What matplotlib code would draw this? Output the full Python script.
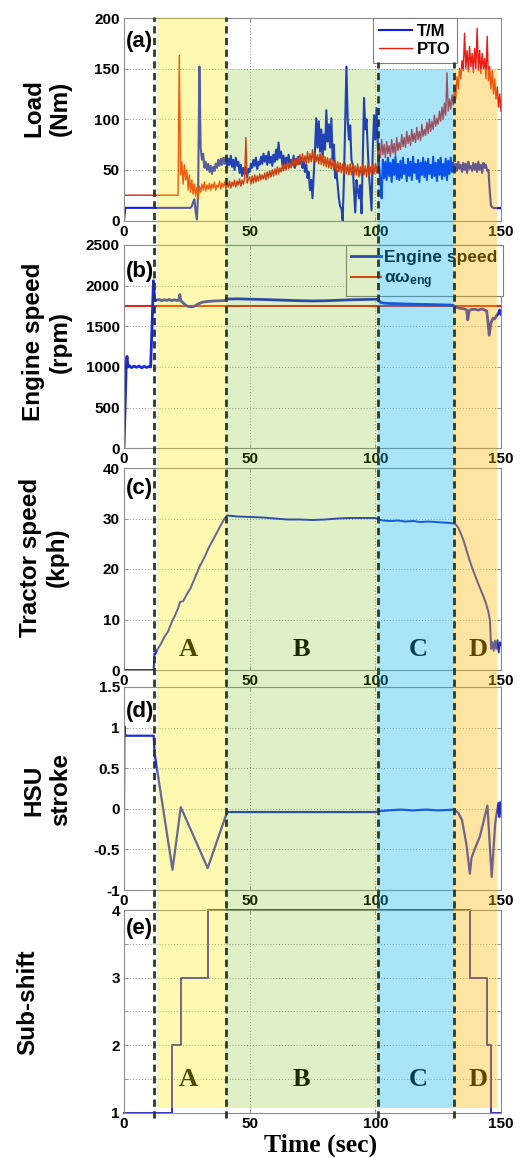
import numpy as np
import matplotlib
matplotlib.use("Agg")
import matplotlib.pyplot as plt
import matplotlib.transforms as mtransforms
from matplotlib.patches import Rectangle
from matplotlib.lines import Line2D

# ---------------------------------------------------------------- data
# load torques sampled every 0.5 s
load_t = np.arange(0, 150.5, 0.5)
tm_load = [
    0, 12.5, 12.5, 12.5, 12.5, 12.5, 12.5, 12.5, 12.5, 12.5, 12.5, 12.5, 12.5, 12.5, 12.5, 12.5, 12.5, 12.5, 12.5, 12.5,
    12.5, 12.5, 12.5, 12.5, 12.5, 12.5, 12.5, 12.5, 12.5, 12.5, 12.5, 12.5, 12.5, 12.5, 12.5, 12.5, 12.5, 12.5, 12.5, 12.5,
    12.5, 12.5, 12.5, 12.5, 12.5, 12.5, 12.5, 12.5, 12.5, 12.5, 12.5, 12.5, 12.5, 12.5, 14, 18, 21, 9, 1, 28,
    152, 72, 60, 66, 52, 58, 50, 56, 48, 54, 46, 53, 49, 56, 52, 60, 54, 61, 55, 62,
    56, 63, 52, 61, 55, 64, 53, 60, 50, 62, 54, 58, 47, 55, 44, 52, 46, 53, 43, 51,
    48, 56, 52, 60, 54, 62, 51, 58, 55, 63, 56, 66, 58, 64, 55, 68, 57, 63, 54, 65,
    58, 70, 60, 77, 62, 68, 55, 64, 52, 62, 56, 65, 53, 60, 55, 64, 52, 61, 56, 63,
    56, 62, 52, 58, 48, 55, 42, 48, 30, 40, 22, 45, 70, 101, 72, 98, 68, 90, 62, 85,
    70, 109, 78, 95, 72, 101, 60, 75, 42, 50, 35, 22, 14, 12, 0, 40, 95, 152, 100, 80,
    94, 60, 55, 30, 8, 40, 30, 22, 35, 7, 60, 121, 90, 100, 70, 45, 28, 10, 72, 104,
    80, 111, 72, 55, 40, 22, 60, 42, 58, 40, 62, 44, 57, 38, 60, 45, 63, 41, 56, 40,
    59, 42, 62, 46, 55, 39, 61, 44, 58, 40, 63, 47, 56, 41, 60, 38, 57, 45, 62, 43,
    58, 40, 61, 46, 55, 42, 63, 44, 57, 39, 60, 45, 62, 41, 56, 44, 61, 40, 59, 46,
    62, 48, 57, 50, 56, 49, 58, 51, 55, 48, 57, 50, 56, 47, 58, 51, 54, 49, 57, 50,
    56, 48, 58, 50, 55, 47, 57, 52, 55, 49, 50, 30, 15, 13, 12.5, 12, 12.5, 12, 12.5, 12,
    12.5,
]
pto_load = [
    25, 25, 25, 25, 25, 25, 25, 25, 25, 25, 25, 25, 25, 25, 25, 25, 25, 25, 25, 25,
    25, 25, 25, 25, 25, 25, 25, 25, 25, 25, 25, 25, 25, 25, 25, 25, 25, 25, 25, 25,
    25, 25, 25, 25, 163, 45, 58, 36, 55, 40, 50, 30, 45, 28, 40, 26, 36, 24, 33, 22,
    34, 28, 36, 30, 38, 29, 35, 31, 37, 30, 36, 32, 38, 30, 35, 33, 39, 31, 37, 33,
    38, 31, 37, 33, 39, 32, 38, 34, 40, 33, 39, 35, 41, 34, 40, 36, 42, 82, 37, 41,
    43, 36, 44, 37, 45, 38, 44, 39, 46, 40, 45, 41, 47, 40, 48, 42, 49, 43, 50, 44,
    51, 45, 53, 46, 52, 48, 55, 49, 56, 50, 58, 51, 57, 52, 60, 53, 61, 54, 63, 55,
    65, 56, 66, 57, 64, 56, 68, 57, 66, 58, 70, 57, 67, 58, 65, 56, 66, 55, 64, 54,
    63, 53, 62, 52, 61, 51, 60, 50, 59, 49, 58, 48, 57, 47, 56, 46, 57, 46, 55, 45,
    56, 45, 55, 44, 54, 45, 56, 43, 53, 44, 55, 45, 54, 43, 56, 44, 53, 45, 55, 46,
    56, 47, 60, 72, 62, 80, 65, 75, 62, 78, 66, 74, 63, 80, 67, 76, 64, 82, 69, 77,
    70, 85, 73, 82, 72, 88, 76, 84, 74, 90, 78, 86, 77, 92, 80, 88, 79, 95, 83, 90,
    84, 97, 86, 100, 88, 98, 90, 104, 93, 101, 95, 108, 98, 112, 100, 116, 104, 146, 108, 120,
    110, 124, 114, 132, 120, 142, 130, 150, 140, 158, 148, 185, 150, 168, 147, 172, 152, 165, 146, 170,
    150, 190, 148, 168, 145, 165, 150, 160, 140, 182, 138, 152, 130, 148, 125, 140, 120, 132, 112, 125,
    108,
]

# engine speed (rpm)
eng_t = [0, 0.4, 0.9, 1.2, 1.6, 2.2, 3, 4, 5, 6, 7, 8, 9, 10,
         10.6, 11.2, 11.7, 12.2, 12.8, 14, 15, 16, 17, 18, 19, 20, 21,
         21.8, 22.2, 22.6, 23.5, 24.5, 25.5, 26.5, 27.5, 28.5, 29.5,
         31, 33, 36, 39, 40.3, 40.8, 45, 50, 55, 60, 65, 70, 75, 80, 85, 90, 95, 100,
         101.2, 101.8, 102.5, 103.5, 106, 109, 112, 115, 118, 121, 124, 127, 130,
         131.2, 132.5, 134, 135.5, 136.3, 136.8, 137.3, 138, 139.5, 141, 142.5, 143.5,
         144.3, 144.8, 145.3, 146, 146.8, 147.5, 148.2, 149, 149.5, 150]
eng_rpm = [0, 450, 1050, 1130, 1000, 1015, 992, 1010, 996, 1012, 990, 1008, 994, 1006,
           1000, 1550, 2060, 1830, 1820, 1830, 1815, 1828, 1818, 1830, 1816, 1826, 1818,
           1822, 1890, 1815, 1790, 1760, 1745, 1740, 1742, 1755, 1775,
           1795, 1805, 1812, 1815, 1818, 1835, 1838, 1834, 1830, 1825, 1820, 1815, 1812, 1814, 1820, 1826, 1830, 1832,
           1830, 1800, 1790, 1785, 1780, 1778, 1775, 1772, 1770, 1768, 1766, 1764, 1762,
           1755, 1730, 1720, 1715, 1700, 1580, 1690, 1705, 1710, 1700, 1715, 1700,
           1690, 1560, 1390, 1540, 1600, 1590, 1630, 1660, 1700, 1650]
alpha_omega_eng = 1745

# tractor speed (kph)
speed_t = [0, 11.8, 12.1, 12.6, 13.2, 14.5, 16, 17.5, 19, 20.5, 21.5, 22.3, 23.5, 25, 26.5, 28,
           30, 32, 34, 36, 38, 40, 41, 45, 50, 55, 60, 65, 70, 75, 80, 85, 90, 95, 100,
           101.5, 103, 106, 109, 112, 115, 118, 121, 124, 127, 130,
           131.2, 132, 133, 134, 135, 136, 137, 138, 139, 140, 141, 142, 143, 144, 145,
           145.6, 146.1, 146.6, 147.1, 147.6, 148.1, 148.6, 149.1, 149.6, 150]
speed_kph = [0, 0, 3.3, 3.2, 4.0, 5.0, 6.5, 7.6, 9.5, 11.0, 12.2, 13.5, 13.6, 15.0, 16.2, 18.0,
             20.4, 22.3, 24.5, 26.3, 28.2, 30.0, 30.6, 30.4, 30.3, 30.2, 30.0, 29.8, 29.8, 29.7, 29.8, 30.0, 30.1, 30.1, 30.1,
             29.8, 29.6, 29.5, 29.6, 29.4, 29.5, 29.3, 29.4, 29.3, 29.2, 29.1,
             29.0, 28.8, 28.2, 27.0, 25.8, 24.2, 22.5, 21.0, 19.6, 18.3, 17.0, 15.8, 14.6, 13.2, 11.5,
             9.8, 4.2, 5.5, 3.8, 5.8, 4.2, 5.9, 3.5, 5.5, 5.0]

# HSU stroke
hsu_t = [0, 0.15, 0.3, 0.6, 1.0, 11.8, 12.2, 19.3, 22.6, 33.3, 41.0,
         100, 101, 105, 110, 115, 120, 125,
         131.5, 133, 134.5, 136.3, 137.6, 138.3, 139.5, 141.6,
         144.6, 146.3, 147.7, 148.3, 149.0, 149.3, 149.7, 150]
hsu_stroke = [0, 1.02, 0.92, 0.9, 0.9, 0.9, 0.68, -0.75, 0.02, -0.73, -0.04,
              -0.04, -0.03, -0.02, -0.01, -0.02, -0.01, -0.02,
              -0.01, -0.05, -0.14, -0.45, -0.8, -0.6, -0.5, -0.34,
              0.04, -0.84, -0.18, -0.05, 0.07, -0.1, 0.08, -0.05]

# sub-shift stage (changes)
shift_t = [0, 19.0, 22.6, 33.3, 137.7, 144.6, 145.9, 150]
shift_stage = [1, 2, 3, 4, 3, 2, 1, 1]

# driving phases
phase_names = ["A", "B", "C", "D"]
phase_edges = [13.0, 40.5, 101.0, 131.2, 148.6]
phase_label_t = [25.5, 70.5, 117.0, 141.0]
divider_t = [12.0, 40.5, 101.0, 131.2]

x_ticks = [0, 50, 100, 150]

# ---------------------------------------------------------------- style
plt.rcParams["font.family"] = ["Liberation Sans", "DejaVu Sans"]
plt.rcParams["font.weight"] = "bold"
plt.rcParams["mathtext.fontset"] = "custom"
plt.rcParams["mathtext.rm"] = "Liberation Sans:bold"
plt.rcParams["mathtext.it"] = "Liberation Sans:bold"
plt.rcParams["mathtext.bf"] = "Liberation Sans:bold"
plt.rcParams["axes.unicode_minus"] = False

W, H = 528, 1158
fig = plt.figure(figsize=(W / 100, H / 100), dpi=100)
fig.patch.set_facecolor("white")


def px_axes(left, top, right, bottom):
    return fig.add_axes([left / W, 1 - bottom / H, (right - left) / W, (bottom - top) / H])


ax_a = px_axes(124, 18, 501, 220.5)
ax_b = px_axes(124, 245, 501, 448.3)
ax_c = px_axes(124, 468, 501, 670)
ax_d = px_axes(124, 687, 501, 890)
ax_e = px_axes(124, 910, 501, 1113)
axes = [ax_a, ax_b, ax_c, ax_d, ax_e]


def style(ax, ylim, yticks, ylabels):
    ax.set_xlim(0, 150)
    ax.set_ylim(*ylim)
    ax.set_xticks(x_ticks)
    ax.set_xticklabels([str(v) for v in x_ticks])
    ax.set_yticks(yticks)
    ax.set_yticklabels(ylabels)
    ax.grid(True, linestyle=(0, (1, 2)), color="#9a9a9a", lw=0.7)
    ax.tick_params(direction="in", length=3, width=0.6, color="#8c8c8c",
                   labelsize=11, pad=3, top=True, right=True)
    for s in ax.spines.values():
        s.set_color("#8c8c8c")
        s.set_linewidth(0.8)


style(ax_a, (0, 200), [0, 50, 100, 150, 200], ["0", "50", "100", "150", "200"])
style(ax_b, (0, 2500), [0, 500, 1000, 1500, 2000, 2500],
      ["0", "500", "1000", "1500", "2000", "2500"])
style(ax_c, (0, 40), [0, 10, 20, 30, 40], ["0", "10", "20", "30", "40"])
style(ax_d, (-1, 1.5), [-1, -0.5, 0, 0.5, 1, 1.5], ["-1", "-0.5", "0", "0.5", "1", "1.5"])
style(ax_e, (1, 4), [1, 1.5, 2, 2.5, 3, 3.5, 4], ["1", "", "2", "", "3", "", "4"])

blue = "#0c1ee8"

# (a) load
ax_a.plot(load_t, tm_load, color=blue, lw=1.5, label="T/M")
ax_a.plot(load_t, pto_load, color="#e81c14", lw=1.0, label="PTO")
leg = ax_a.legend(loc="upper right", bbox_to_anchor=(0.883, 1.0), borderaxespad=0,
                  fontsize=12, handlelength=2.0, handletextpad=0.3, borderpad=0.35,
                  labelspacing=0.2, fancybox=False, framealpha=1, edgecolor="#808080")
leg.get_frame().set_linewidth(0.8)

# (b) engine speed
ax_b.axhline(alpha_omega_eng, color="#e02818", lw=1.5, label=r"$\mathbf{\alpha\omega}_{\mathbf{eng}}$")
ax_b.plot(eng_t, eng_rpm, color="#1a2ad8", lw=2.0, label="Engine speed")
hb, lb = ax_b.get_legend_handles_labels()
leg = ax_b.legend(hb[::-1], lb[::-1], loc="upper right", bbox_to_anchor=(1.005, 1.0),
                  borderaxespad=0, fontsize=12.5, handlelength=1.7, handletextpad=0.2,
                  borderpad=0.3, labelspacing=0.3, fancybox=False, framealpha=1,
                  edgecolor="#808080")
leg.get_frame().set_linewidth(0.8)

# (c) tractor speed
ax_c.plot(speed_t, speed_kph, color="#1e2ed8", lw=1.4)

# (d) HSU stroke
ax_d.plot(hsu_t, hsu_stroke, color="#1e2ed8", lw=1.6)

# (e) sub-shift
ax_e.plot(shift_t, shift_stage, color="#3030c0", lw=1.4, drawstyle="steps-post", clip_on=False)

# panel tags
for ax, tag, ty in zip(axes, ["(a)", "(b)", "(c)", "(d)", "(e)"],
                       [0.882, 0.872, 0.900, 0.877, 0.911]):
    ax.text(0.006, ty, tag, transform=ax.transAxes, fontsize=16, fontweight="bold",
            ha="left", va="center")

# phase letters
for ax, ly in [(ax_c, 4.0), (ax_e, 1.5)]:
    for name, lt in zip(phase_names, phase_label_t):
        ax.text(lt, ly, name, family=["Liberation Serif"], fontweight="bold",
                fontsize=19, ha="center", va="center")

# axis titles
for text, x, y in [("Load\n(Nm)", 47, 108), ("Engine speed\n(rpm)", 47, 342),
                   ("Tractor speed\n(kph)", 44, 557), ("HSU\nstroke", 47, 790),
                   ("Sub-shift", 28, 1002)]:
    fig.text(x / W, 1 - y / H, text, rotation=90, ha="center", va="center",
             fontsize=17.5, fontweight="bold", linespacing=1.2, multialignment="center")
fig.text(321 / W, 1 - 1145 / H, "Time (sec)", family=["Liberation Serif"],
         fontweight="bold", fontsize=18.5, ha="center", va="center")

# translucent phase bands spanning all panels
bx = mtransforms.blended_transform_factory(ax_e.transData, fig.transFigure)
pa = ax_a.get_position()
pe = ax_e.get_position()
top_full = pa.y1 + 1 / H
top_150 = pa.y0 + pa.height * 150 / 200
bottom = pe.y0 + 5 / H
band_colors = [(1.0, 0.92, 0.0, 0.31), (0.43, 0.75, 0.0, 0.22),
               (0.05, 0.70, 0.92, 0.35), (0.98, 0.72, 0.02, 0.38)]
band_tops = [top_full, top_150, top_150, top_150]
for i in range(4):
    x0, x1 = phase_edges[i], phase_edges[i + 1]
    fig.add_artist(Rectangle((x0, bottom), x1 - x0, band_tops[i] - bottom, transform=bx,
                             facecolor=band_colors[i], edgecolor="none", zorder=5))

# phase dividers
div_top = [pa.y1 + 1 / H, pa.y1 + 1 / H,
           pa.y0 + pa.height * 156.5 / 200, pa.y0 + pa.height * 156.5 / 200]
for t, ytop in zip(divider_t, div_top):
    fig.add_artist(Line2D([t, t], [pe.y0 - 5 / H, ytop], transform=bx, color="#2f3a26",
                          lw=2.0, linestyle=(0, (2.6, 1.6)), zorder=6))

fig.savefig("out.png", dpi=100, facecolor="white")
